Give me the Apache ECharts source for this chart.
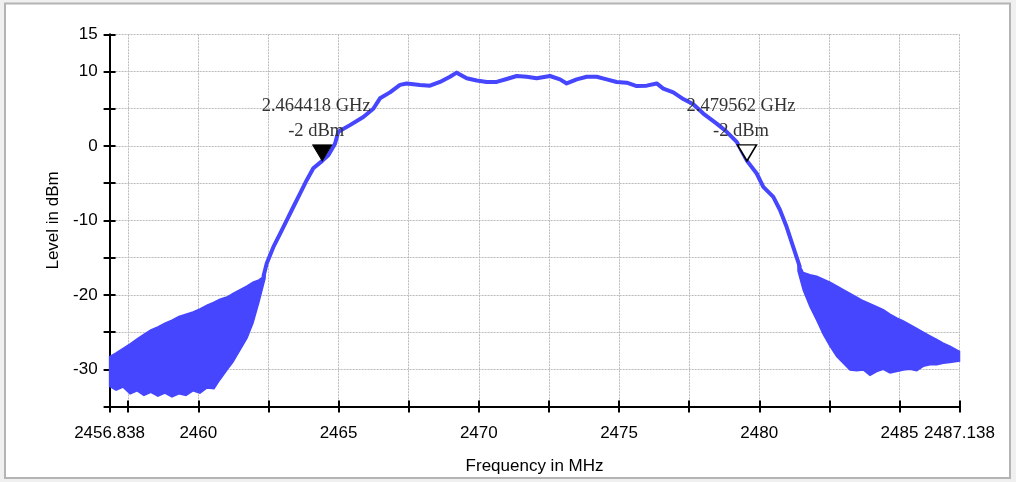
<!DOCTYPE html>
<html>
<head>
<meta charset="utf-8">
<script src="https://cdn.jsdelivr.net/npm/echarts@6/dist/echarts.min.js"></script>
<style>
  html, body { margin: 0; padding: 0; background: #f0f0f0; }
  #chart { width: 1016px; height: 482px; }
</style>
</head>
<body>
<div id="chart"></div>
<script>
// axis range and ticks (MHz / dBm)
const xMin = 2456.838;
const xMax = 2487.138;
const xTickValues = [2456.838, 2457.5, 2460, 2462.5, 2465, 2467.5, 2470, 2472.5, 2475, 2477.5, 2480, 2482.5, 2485, 2487.138];
const xLabelValues = [2456.838, 2460, 2465, 2470, 2475, 2480, 2485, 2487.138];
const yLabelValues = [15, 10, 0, -10, -20, -30];

// lower skirt, noisy band: top and bottom of the noise
const leftFreq = [2456.838, 2457.07, 2457.32, 2457.57, 2457.82, 2458.06, 2458.31, 2458.56, 2458.81, 2459.06, 2459.31, 2459.56, 2459.81, 2460.06, 2460.31, 2460.56, 2460.77, 2461.02, 2461.24, 2461.49, 2461.74, 2461.95, 2462.16, 2462.38];
const leftTop = [-28.3, -27.8, -27.2, -26.6, -25.9, -25.3, -24.7, -24.3, -23.8, -23.4, -22.9, -22.6, -22.3, -21.9, -21.4, -21.0, -20.6, -20.3, -19.8, -19.3, -18.8, -18.3, -18.0, -17.4];
const leftLow = [-32.3, -32.8, -32.4, -33.3, -32.9, -33.5, -33.1, -33.6, -33.2, -33.7, -33.3, -33.5, -32.9, -33.2, -32.5, -32.6, -31.4, -30.1, -29.0, -27.4, -25.8, -23.8, -21.0, -17.8];

// main trace
const traceFreq = [2462.318, 2462.439, 2462.674, 2462.913, 2463.152, 2463.387, 2463.626, 2463.865, 2464.100, 2464.418, 2464.635, 2464.874, 2464.991, 2465.408, 2465.883, 2466.239, 2466.478, 2466.834, 2467.191, 2467.430, 2467.904, 2468.260, 2468.617, 2468.973, 2469.212, 2469.569, 2469.925, 2470.282, 2470.638, 2470.995, 2471.351, 2471.708, 2472.064, 2472.539, 2472.895, 2473.134, 2473.490, 2473.847, 2474.203, 2474.560, 2474.916, 2475.273, 2475.629, 2475.986, 2476.342, 2476.578, 2476.934, 2477.291, 2477.647, 2478.004, 2478.481, 2478.838, 2479.195, 2479.562, 2479.908, 2480.143, 2480.499, 2480.738, 2480.977, 2481.212, 2481.451];
const traceLevel = [-17.6, -15.8, -13.6, -11.8, -10.0, -8.2, -6.4, -4.6, -3.0, -2.0, -1.25, 0.3, 1.9, 2.8, 3.9, 5.0, 6.4, 7.2, 8.2, 8.4, 8.2, 8.1, 8.6, 9.3, 9.85, 9.1, 8.8, 8.6, 8.6, 9.0, 9.4, 9.3, 9.1, 9.4, 8.95, 8.4, 8.95, 9.3, 9.3, 8.95, 8.6, 8.5, 8.05, 8.1, 8.4, 7.7, 7.2, 6.3, 5.6, 4.35, 3.0, 1.9, 0.55, -2.0, -3.7, -5.5, -6.85, -8.6, -10.9, -13.6, -16.3];

// upper skirt, noisy band
const rightFreq = [2481.380, 2481.569, 2481.808, 2482.047, 2482.282, 2482.521, 2482.760, 2482.995, 2483.234, 2483.473, 2483.708, 2483.947, 2484.186, 2484.421, 2484.660, 2484.899, 2485.134, 2485.373, 2485.612, 2485.847, 2486.086, 2486.325, 2486.560, 2486.799, 2487.138];
const rightTop = [-15.6, -17.0, -17.3, -17.5, -17.9, -18.3, -18.8, -19.3, -19.8, -20.3, -20.8, -21.2, -21.6, -22.0, -22.6, -23.1, -23.5, -24.0, -24.5, -25.0, -25.5, -26.0, -26.5, -26.9, -27.6];
const rightLow = [-16.8, -19.4, -21.6, -23.4, -25.3, -26.9, -28.3, -29.2, -30.1, -30.2, -30.1, -30.8, -30.3, -30.0, -30.5, -30.3, -30.1, -30.0, -30.2, -29.6, -29.4, -29.4, -29.2, -29.1, -28.9];

// markers
const markerGHz = [2.464418, 2.479562];
const markerLevel = [-2, -2];
const markerFilled = [true, false];

const traceColor = '#4646ff';
const sansFont = '"Liberation Sans", Arial, sans-serif';
const serifFont = '"Liberation Serif", "Times New Roman", serif';

const chart = echarts.init(document.getElementById('chart'));

const bandSeries = (freq, top, low) => ({
  type: 'custom',
  coordinateSystem: 'cartesian2d',
  silent: true,
  z: 2,
  data: freq.map((f, i) => [f, top[i], low[i]]),
  renderItem: (params, api) => {
    if (params.dataIndex !== 0) return null;
    const upper = freq.map((f, i) => api.coord([f, top[i]]));
    const lower = freq.map((f, i) => api.coord([f, low[i]])).reverse();
    return {
      type: 'polygon',
      shape: { points: upper.concat(lower) },
      style: { fill: traceColor, stroke: traceColor, lineWidth: 1.5 }
    };
  }
});

const axisLineStyle = { color: '#000', width: 2 };
const gridLineStyle = { color: '#bbbbbb', type: [2, 1], width: 1 };

const option = {
  animation: false,
  backgroundColor: '#f0f0f0',
  graphic: [{
    type: 'rect',
    z: -10,
    shape: { x: 5, y: 3.5, width: 1005, height: 474.5 },
    style: { fill: '#fff', stroke: '#b4b4b4', lineWidth: 2 }
  }],
  grid: { left: 109.6, right: 56.5, top: 34.3, bottom: 75.5 },
  xAxis: [{
    type: 'value',
    position: 'bottom',
    min: xMin,
    max: xMax,
    name: 'Frequency in MHz',
    nameLocation: 'middle',
    nameGap: 51,
    nameTextStyle: { fontFamily: sansFont, fontSize: 17, color: '#000' },
    axisLine: { show: true, onZero: false, lineStyle: axisLineStyle },
    axisTick: { show: true, inside: false, length: 6, customValues: xTickValues, lineStyle: { color: '#000', width: 2 } },
    axisLabel: {
      customValues: xLabelValues,
      formatter: (v) => String(v),
      fontFamily: sansFont, fontSize: 17, color: '#000', margin: 18
    },
    splitLine: { show: true, lineStyle: gridLineStyle }
  }, {
    type: 'value',
    position: 'bottom',
    min: xMin,
    max: xMax,
    axisLine: { show: false, onZero: false },
    axisTick: { show: true, inside: true, length: 6, customValues: xTickValues, lineStyle: { color: '#000', width: 2 } },
    axisLabel: { show: false },
    splitLine: { show: false }
  }],
  yAxis: [{
    type: 'value',
    position: 'left',
    min: -35,
    max: 15,
    interval: 5,
    name: 'Level in dBm',
    nameLocation: 'middle',
    nameGap: 48,
    nameTextStyle: { fontFamily: sansFont, fontSize: 17, color: '#000' },
    axisLine: { show: true, onZero: false, lineStyle: axisLineStyle },
    axisTick: { show: true, inside: false, length: 6, lineStyle: { color: '#000', width: 2 } },
    axisLabel: {
      customValues: yLabelValues,
      formatter: (v) => String(v),
      fontFamily: sansFont, fontSize: 17, color: '#000', margin: 12
    },
    splitLine: { show: true, lineStyle: gridLineStyle }
  }, {
    type: 'value',
    position: 'left',
    min: -35,
    max: 15,
    interval: 5,
    axisLine: { show: false, onZero: false },
    axisTick: { show: true, inside: true, length: 6, lineStyle: { color: '#000', width: 2 } },
    axisLabel: { show: false },
    splitLine: { show: false }
  }],
  series: [
    bandSeries(leftFreq, leftTop, leftLow),
    bandSeries(rightFreq, rightTop, rightLow),
    {
      type: 'line',
      z: 3,
      silent: true,
      showSymbol: false,
      data: traceFreq.map((f, i) => [f, traceLevel[i]]),
      lineStyle: { color: traceColor, width: 4, join: 'round' }
    },
    {
      type: 'scatter',
      z: 5,
      silent: true,
      symbol: 'path://M0,0 L20,0 L10,17 Z',
      symbolSize: [19, 16],
      symbolOffset: [0, -8],
      data: markerGHz.map((g, i) => ({
        value: [g * 1000, markerLevel[i]],
        itemStyle: markerFilled[i]
          ? { color: '#000', borderColor: '#000', borderWidth: 1, opacity: 1 }
          : { color: '#fff', borderColor: '#000', borderWidth: 1.5, opacity: 1 }
      })),
      label: {
        show: true,
        position: 'top',
        distance: 2,
        offset: [-6, 1],
        align: 'center',
        lineHeight: 25,
        fontFamily: serifFont,
        fontSize: 18.5,
        color: '#333',
        formatter: (p) => markerGHz[p.dataIndex].toFixed(6) + ' GHz\n' + markerLevel[p.dataIndex] + ' dBm'
      }
    }
  ]
};

chart.setOption(option);
</script>
</body>
</html>
